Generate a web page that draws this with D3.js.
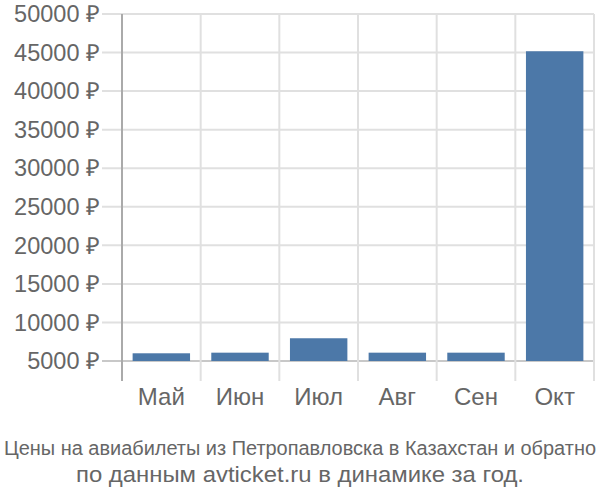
<!DOCTYPE html>
<html><head><meta charset="utf-8">
<script src="https://cdn.jsdelivr.net/npm/d3@7"></script>
<style>body{margin:0;background:#fff}svg{display:block}</style>
</head><body><svg id="c" width="600" height="500"></svg>
<script>
const categories = ["Май","Июн","Июл","Авг","Сен","Окт"];
const values = [6000, 6080, 7950, 6080, 6080, 45170];
const yTicks = [5000,10000,15000,20000,25000,30000,35000,40000,45000,50000];
const titleLines = ["Цены на авиабилеты из Петропавловска в Казахстан и обратно","по данным avticket.ru в динамике за год."];

(function(){
const svg = d3.select("#c");
const mLeft = 122, mRight = 594, mTop = 14, mBottom = 361;
const x = d3.scaleBand().domain(categories).range([mLeft, mRight]).paddingInner(0.27).paddingOuter(0.135);
const y = d3.scaleLinear().domain([5000, 50000]).range([mBottom, mTop]);
const font = "'Liberation Sans', Arial, sans-serif";

svg.append("g").selectAll("line").data(yTicks).join("line")
  .attr("x1", mLeft - 20).attr("x2", mRight).attr("y1", d => y(d)).attr("y2", d => y(d))
  .attr("stroke", d => d === 5000 ? "#c8c8c8" : "#e0e0e0").attr("stroke-width", 2);
const bounds = categories.map(c => x(c) - x.step()*x.paddingInner()/2).concat([mRight]);
svg.append("g").selectAll("line").data(bounds.slice(1)).join("line")
  .attr("x1", d => d).attr("x2", d => d).attr("y1", mTop).attr("y2", mBottom + 20)
  .attr("stroke", "#e0e0e0").attr("stroke-width", 2);
svg.append("g").selectAll("rect").data(values).join("rect")
  .attr("x", (d,i) => x(categories[i])).attr("width", x.bandwidth())
  .attr("y", d => y(d)).attr("height", d => y(5000) - y(d))
  .attr("fill", "#4c78a8");
svg.append("line").attr("x1", mLeft).attr("x2", mLeft).attr("y1", mTop).attr("y2", mBottom + 20)
  .attr("stroke", "#aaaaaa").attr("stroke-width", 2);
svg.append("g").selectAll("text").data(yTicks).join("text")
  .attr("x", 100).attr("y", d => y(d)).attr("dy", "0.35em").attr("text-anchor", "end")
  .attr("font-family", font).attr("font-size", 23.5).attr("fill", "#666")
  .text(d => d + " ₽");
svg.append("g").selectAll("text").data(categories).join("text")
  .attr("x", d => x(d) + x.bandwidth()/2).attr("y", 397).attr("dy", "0.35em").attr("text-anchor", "middle")
  .attr("font-family", font).attr("font-size", 24).attr("fill", "#666")
  .text(d => d);
svg.append("text").attr("x", 300).attr("y", 455).attr("text-anchor", "middle")
  .attr("font-family", font).attr("font-size", 20).attr("fill", "#666")
  .attr("textLength", 592).attr("lengthAdjust", "spacingAndGlyphs").text(titleLines[0]);
svg.append("text").attr("x", 300).attr("y", 482).attr("text-anchor", "middle")
  .attr("font-family", font).attr("font-size", 22).attr("fill", "#666")
  .attr("textLength", 448).attr("lengthAdjust", "spacingAndGlyphs").text(titleLines[1]);
})();
</script></body></html>
